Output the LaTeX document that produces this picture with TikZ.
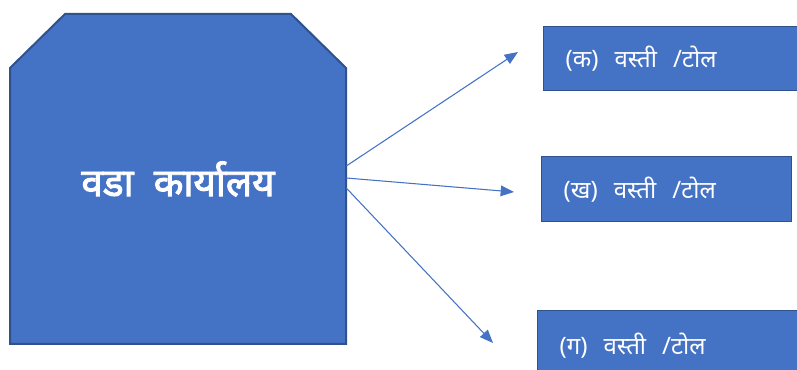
\documentclass[tikz,border=0pt]{standalone}
\usepackage{fontspec}
\setmainfont[Script=Devanagari]{Noto Sans}
\newfontfamily\headfont[Script=Devanagari,FakeBold=2.5]{Noto Sans}
\usetikzlibrary{arrows.meta}
\definecolor{boxblue}{HTML}{4472C4}
\definecolor{edgeblue}{HTML}{2F528F}

\begin{document}
\begin{tikzpicture}[x=0.75pt,y=-0.75pt,
  leaf/.style={draw=edgeblue,fill=boxblue,line width=1.1pt,text=white,
    font=\fontsize{18}{22}\selectfont,anchor=north west,inner xsep=16.5pt,align=left},
  link/.style={boxblue,line width=0.8pt,-{Triangle[length=10pt,width=8pt]}}]
\useasboundingbox (0,0) rectangle (797,370);
\clip (0,0) rectangle (797,370);

% head office
\filldraw[draw=edgeblue,fill=boxblue,line width=1.5pt] (65,14) -- (291,14) -- (346,68) -- (346,344) -- (10,344) -- (10,68) -- cycle;
\node[minimum width=252pt,minimum height=247.5pt,text=white,font=\headfont\fontsize{29}{33}\selectfont] (office) at (178,179) {वडा\ \ कार्यालय};

% settlements
\node[leaf,minimum width=210pt,minimum height=48pt,text width=177pt] (tol1) at (543,26) {(क)\ \ वस्ती\ \ /टोल};
\node[leaf,minimum width=187.5pt,minimum height=48.75pt,text width=154.5pt] (tol2) at (541,156) {(ख)\ \ वस्ती\ \ /टोल};
\node[leaf,minimum width=210pt,minimum height=52.5pt,text width=177pt] (tol3) at (537,310) {(ग)\ \ वस्ती\ \ /टोल};

\coordinate (tip1) at (518,52);
\coordinate (tip2) at (514,192);
\coordinate (tip3) at (493,343);

\draw[link] ([yshift=9.75pt]office.east) -- (tip1);
\draw[link] ([yshift=0.75pt]office.east) -- (tip2);
\draw[link] ([yshift=-6.75pt]office.east) -- (tip3);

\end{tikzpicture}
\end{document}
